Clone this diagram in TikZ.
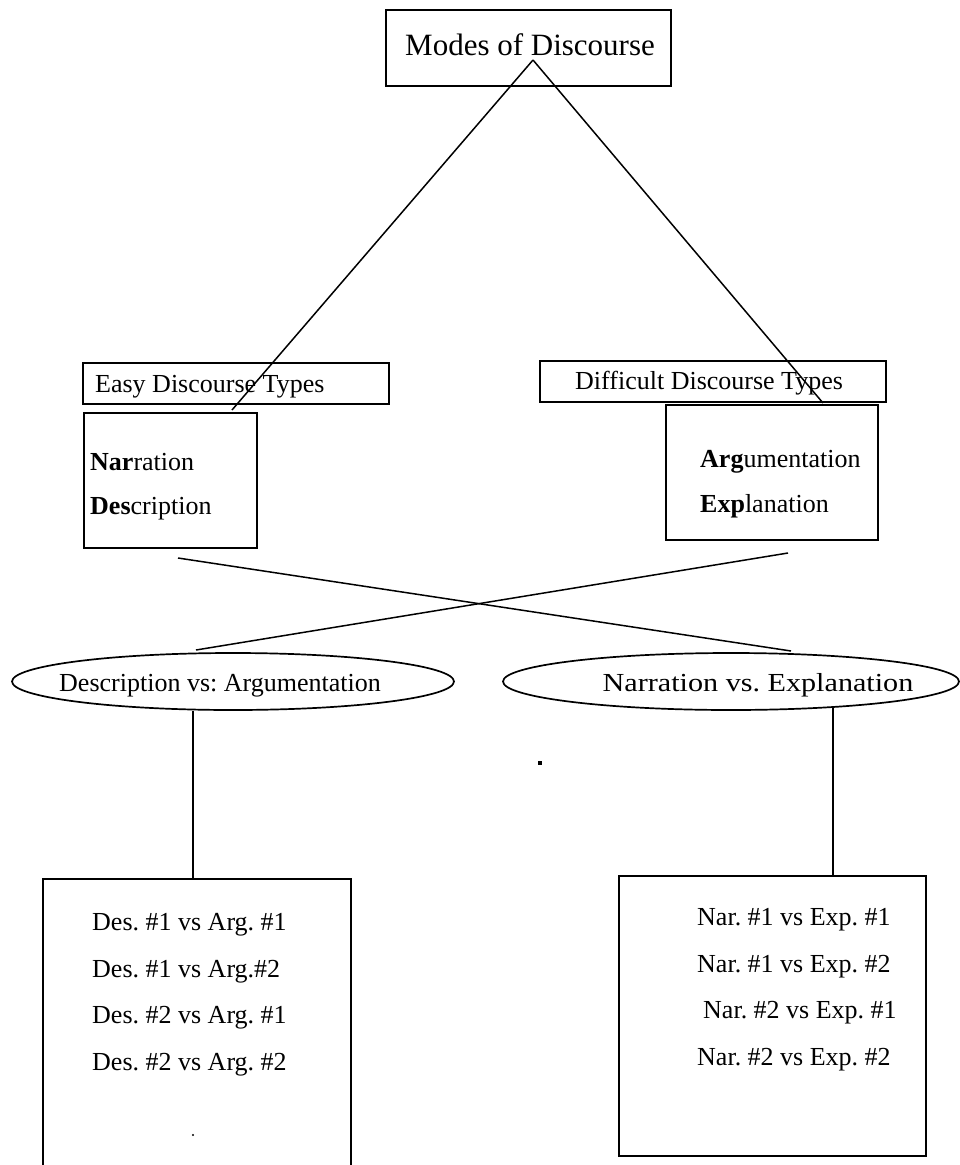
\documentclass[tikz,border=0pt]{standalone}
\usepackage{fontspec}
\setmainfont{Liberation Serif}
\usetikzlibrary{shapes.geometric,calc}
\frenchspacing
\begin{document}
\begin{tikzpicture}[x=1pt,y=-1pt,
  box/.style={draw, line width=1.7pt, inner sep=0pt, anchor=north west},
  lbl/.style={inner sep=0pt, anchor=base west, font=\fontsize{26}{30}\selectfont},
  conn/.style={line width=1.5pt},
  oval/.style={draw, ellipse, line width=1.7pt, inner sep=0pt}]
\useasboundingbox[fill=white] (0,0) rectangle (959,1165);

% title
\node[box, minimum width=285pt, minimum height=76pt] (title) at (385,9) {};
\node[lbl, font=\fontsize{31}{36}\selectfont] (titlet) at (405,55) {Modes of Discourse};
\coordinate (apex) at (533,60);

% second level labels
\node[box, minimum width=306pt, minimum height=41pt] (easy) at (82,362) {};
\node[lbl] (easyt) at (95,392) {Easy Discourse Types};
\node[box, minimum width=346pt, minimum height=41pt] (diff) at (539,360) {};
\node[lbl] (difft) at (575,389) {Difficult Discourse Types};

% type boxes
\node[box, minimum width=173pt, minimum height=135pt] (narbox) at (83,412) {};
\node[lbl] (nar) at (90,470) {\textbf{Nar}ration};
\node[lbl] (des) at (90,514) {\textbf{Des}cription};
\node[box, minimum width=212pt, minimum height=135pt] (argbox) at (665,404) {};
\node[lbl] (arg) at (700,467) {\textbf{Arg}umentation};
\node[lbl] (exp) at (700,512) {\textbf{Exp}lanation};

\coordinate (eend) at (232,410);
\coordinate (dend) at (823,403);
\draw[conn] (apex) -- (eend);
\draw[conn] (apex) -- (dend);

% cross lines
\coordinate (x1a) at (178,558);
\coordinate (x1b) at (791,651);
\coordinate (x2a) at (788,553);
\coordinate (x2b) at (196,650);
\draw[conn] (x1a) -- (x1b);
\draw[conn] (x2a) -- (x2b);

% ellipses
\node[oval, minimum width=442pt, minimum height=57pt] (ellL) at (233,681.5) {};
\node[lbl, anchor=base] (ellLt) at (220,691) {Description vs: Argumentation};
\node[oval, minimum width=456pt, minimum height=57pt] (ellR) at (731,681.5) {};
\node[lbl, anchor=base] (ellRt) at (758,691) {\scalebox{1.16}[1]{Narration vs. Explanation}};

% bottom boxes
\node[box, minimum width=308pt, minimum height=300pt] (botL) at (42,878) {};
\node[box, minimum width=307pt, minimum height=280pt] (botR) at (618,875) {};
\coordinate (topL) at (193,878);
\coordinate (topR) at (833,875);
\draw[conn] (topL |- ellL.south) -- (topL);
\draw[conn] ($(topR |- ellR.south)+(0,-3)$) -- (topR);

\node[lbl] (l1) at (92,930) {Des. \#1 vs Arg. \#1};
\node[lbl] (l2) at (92,977) {Des. \#1 vs Arg.\#2};
\node[lbl] (l3) at (92,1023) {Des. \#2 vs Arg. \#1};
\node[lbl] (l4) at (92,1070) {Des. \#2 vs Arg. \#2};

\node[lbl] (r1) at (697,925) {Nar. \#1 vs Exp. \#1};
\node[lbl] (r2) at (697,972) {Nar. \#1 vs Exp. \#2};
\node[lbl] (r3) at (703,1018) {Nar. \#2 vs Exp. \#1};
\node[lbl] (r4) at (697,1065) {Nar. \#2 vs Exp. \#2};

% specks
\fill (538,761) rectangle (542,765);
\fill (193,1135) circle (1.2pt);
\end{tikzpicture}
\end{document}
